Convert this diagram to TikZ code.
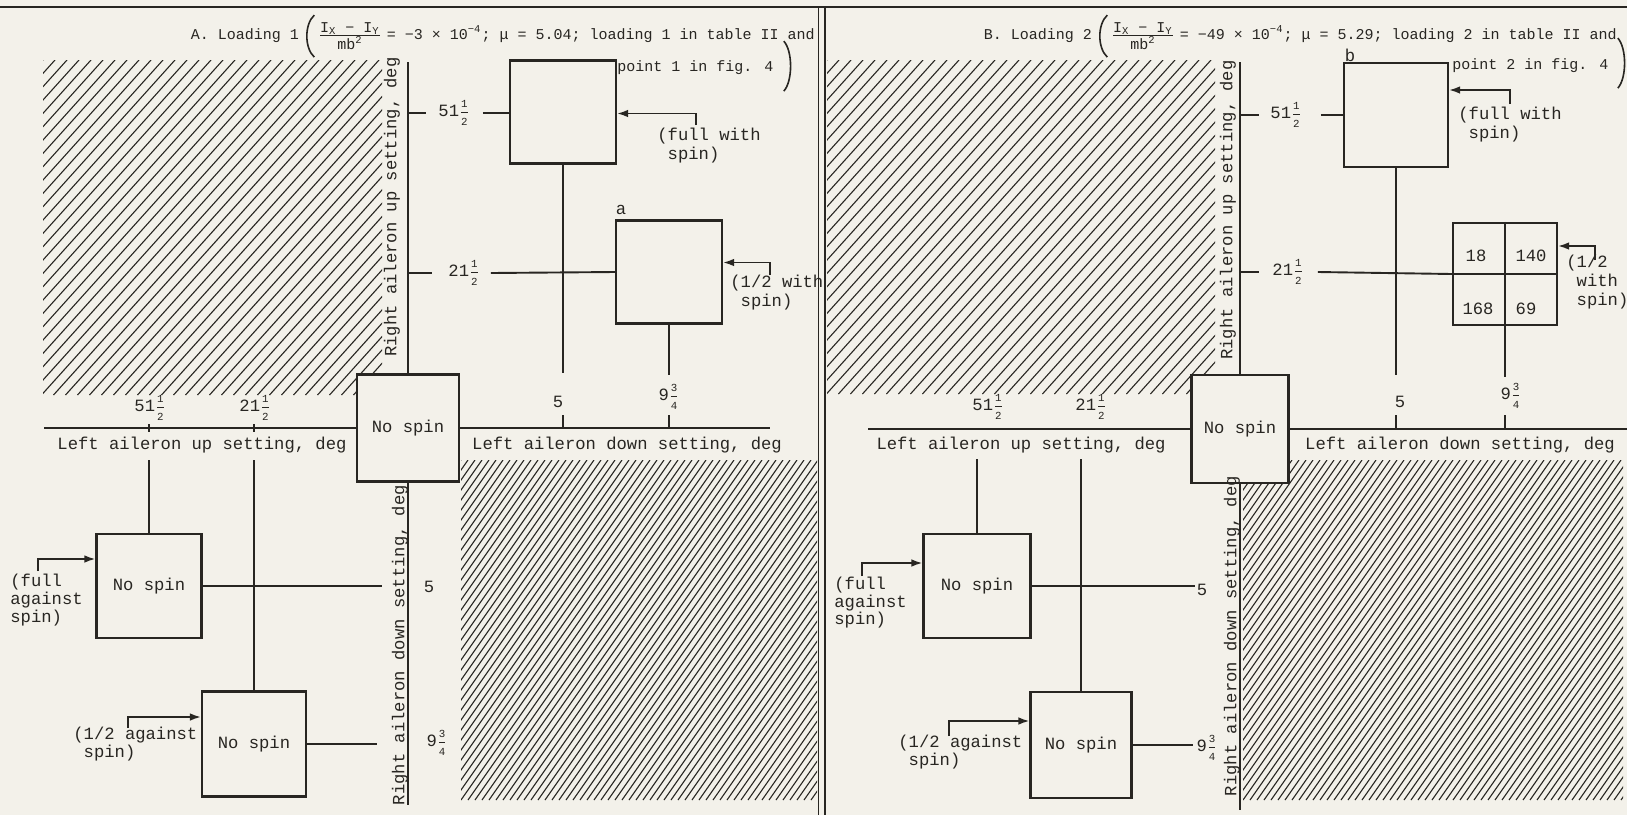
\documentclass[tikz,border=0pt]{standalone}
\usepackage{amsmath}
\usepackage{fontspec}
\setmainfont{Liberation Mono}
\newfontfamily\tw{Liberation Mono}
\usetikzlibrary{arrows.meta,calc}
\definecolor{paper}{RGB}{243,241,234}
\definecolor{ink}{RGB}{40,38,34}
\newcommand{\bodyf}{\tw\fontsize{8.6}{9.5}\selectfont}
\newcommand{\tightf}{\tw\fontsize{8.6}{7.9}\selectfont}
\newcommand{\midf}{\tw\fontsize{8.6}{8.6}\selectfont}
\newcommand{\titlef}{\tw\fontsize{7.5}{8}\selectfont}
\newcommand{\fracf}{\tw\fontsize{5.4}{5.4}\selectfont}
\newcommand{\mfr}[2]{\begingroup\fracf
  \setbox0\hbox{#1}\setbox2\hbox{#2}%
  \ifdim\wd0>\wd2 \dimen0=\wd0 \else \dimen0=\wd2 \fi
  \kern1pt\rlap{\raisebox{4.7pt}{\hbox to\dimen0{\hss\box0\hss}}}%
  \rlap{\raisebox{2.0pt}{\rule{\dimen0}{0.45pt}}}%
  \raisebox{-4.5pt}{\hbox to\dimen0{\hss\box2\hss}}\endgroup}
\newcommand{\hatchbox}[6]{%
  \begin{scope}
    \clip (#1,#2) rectangle (#3,#4);
    \pgfmathsetmacro{\hatchH}{#4-#2}
    \pgfmathsetmacro{\hatchD}{\hatchH*#5}
    \pgfmathsetmacro{\hatchS}{#1-\hatchD}
    \pgfmathsetmacro{\hatchN}{\hatchS+#6}
    \foreach \c in {\hatchS,\hatchN,...,#3} \draw[hatch] (\c,#4) -- ++(\hatchD,-\hatchH);
  \end{scope}}
\tikzset{
  ln/.style={draw=ink,line width=0.95pt},
  axis/.style={draw=ink,line width=1pt},
  box/.style={draw=ink,fill=paper,line width=1.1pt,inner sep=0pt,font=\bodyf,text=ink},
  lab/.style={inner sep=0pt,font=\bodyf,text=ink},
  ttl/.style={inner sep=0pt,font=\titlef,text=ink},
  note/.style={inner sep=0pt,font=\bodyf,text=ink,align=left},
  arr/.style={draw=ink,line width=0.85pt,-{Latex[length=5.5pt,width=3.8pt]}},
  hatch/.style={draw=ink,line width=0.55pt},
  rlab/.style={lab,rotate=90},
  paren/.style={draw=ink,line width=0.8pt}
}
\begin{document}
\begin{tikzpicture}[x=0.5pt,y=-0.5pt]
\useasboundingbox (0,0) rectangle (1627,815);
\fill[paper] (0,0) rectangle (1627,815);

% hatched regions
\hatchbox{43}{60}{382}{395}{0.9}{12}
\hatchbox{461}{460}{817}{800}{0.7}{7}
\hatchbox{827}{60}{1215}{394}{0.9}{12}
\hatchbox{1243}{460}{1623}{800}{0.7}{7}

% frame
\draw[ink,line width=1.2pt] (0,7) -- (1627,7);
\draw[ln] (818.5,7) -- (818.5,815);
\draw[ln] (825,7) -- (825,815);

% ================= Panel A =================
\node[ttl,anchor=base east] (tA2) at (815,39) {= −3 × 10\textsuperscript{−4}; μ = 5.04; loading 1 in table II and};
\node[ttl,anchor=base east] (fA) at ($(tA2.base west)+(-4,0)$) {$\genfrac{}{}{0.45pt}{}{\hbox{\titlef I\textsubscript{X} − I\textsubscript{Y}}}{\hbox{\titlef mb\textsuperscript{2}}}$};
\coordinate (pA) at ($(fA.west)+(-18,0)$);
\node[ttl,anchor=base east] (tA1) at (pA |- tA2.base) {A. Loading 1};
\draw[paren] ([shift={(-3,-21)}]fA.west) .. controls +(-10,9) and +(-10,-9) .. ([shift={(-3,21)}]fA.west);
\node[ttl,anchor=base west] (tA3) at (617,71) {point 1 in fig. 4};
\draw[paren] ([shift={(10,-26)}]tA3.east) .. controls +(9,10) and +(9,-10) .. ([shift={(10,24)}]tA3.east);

\coordinate (upA) at (408,62);
\coordinate (dnA) at (408,805);
\coordinate (lfA) at (44,428);
\coordinate (rtA) at (770,428);

% boxes
\node[box,minimum width=53pt,minimum height=51.5pt] (boxA1) at (563,112) {};
\node[box,minimum width=53pt,minimum height=51.5pt] (boxAa) at (669,272) {};
\node[box,minimum width=51pt,minimum height=53.5pt] (nsA) at (408,428) {No spin};
\node[box,minimum width=52.5pt,minimum height=52pt] (faA) at (149,586) {No spin};
\node[box,minimum width=52pt,minimum height=52.5pt] (haA) at (254,744) {No spin};
\node[lab] (la) at (621,210) {a};

\draw[axis] (nsA.north) -- (upA);
\draw[axis] (nsA.south) -- (dnA);
\draw[axis] (nsA.west) -- (lfA);
\draw[axis] (nsA.east) -- (rtA);
\node[rlab] (rupA) at (392,207) {Right aileron up setting, deg};
\node[rlab] (rdnA) at (400,645) {Right aileron down setting, deg};
\node[lab] (lupA) at (202,445) {Left aileron up setting, deg};
\node[lab] (ldnA) at (627,445) {Left aileron down setting, deg};

% upper grid lines
\node[lab] (a51) at (453,113) {51\mfr{1}{2}};
\node[lab] (a21) at (463,273) {21\mfr{1}{2}};
\draw[ln] (upA |- a51) -- ($(a51.west)+(-12,0)$);
\draw[ln] ($(a51.east)+(15,0)$) -- (boxA1.west |- a51);
\draw[ln] (upA |- a21) -- ($(a21.west)+(-16,0)$);
\draw[ln] ($(a21.east)+(13,0)$) -- (boxAa.west);
\coordinate (v5A) at (563,373);
\coordinate (v9A) at (669,375);
\draw[ln] (boxA1.south) -- (v5A);
\draw[ln] (boxAa.south) -- (v9A);
\draw[ln] (v5A |- rtA) -- ++(0,-13);
\draw[ln] (v9A |- rtA) -- ++(0,-13);
\node[lab] (l5A) at (558,402) {5};
\node[lab] (l9A) at (668,397) {9\mfr{3}{4}};

% arrows upper A
\coordinate (arA1) at (696,125);
\draw[arr] (arA1) |- ([yshift=-0.75pt]boxA1.east);
\node[note,anchor=north west] (nA1) at (657,128) {(full with\\\phantom{(}spin)};
\coordinate (arA2) at (770,275);
\draw[arr] (arA2) |- ([yshift=4.75pt]boxAa.east);
\node[note,anchor=north west] (nA2) at (730,275) {(1/2 with\\\phantom{(}spin)};

% lower left A
\node[lab] (b51A) at (149,408) {51\mfr{1}{2}};
\node[lab] (b21A) at (254,408) {21\mfr{1}{2}};
\draw[ln] (b51A |- lfA) ++(0,-4) -- ++(0,8);
\draw[ln] (b21A |- lfA) ++(0,-4) -- ++(0,8);
\coordinate (topLA) at (0,460);
\draw[ln] (faA.north) -- (faA.north |- topLA);
\draw[ln] (haA.north) -- (haA.north |- topLA);
\coordinate (e5A) at (382,586);
\coordinate (e9A) at (377,744);
\draw[ln] (faA.east) -- (e5A);
\draw[ln] (haA.east) -- (e9A);
\node[lab] (r5A) at (429,587) {5};
\node[lab] (r9A) at (436,743) {9\mfr{3}{4}};
\coordinate (arA3) at (38,571);
\draw[arr] (arA3) |- ([yshift=13.5pt]faA.west);
\node[note,font=\tightf,anchor=north west] (nA3) at (10,574) {(full\\against\\spin)};
\coordinate (arA4) at (128,728);
\draw[arr] (arA4) |- ([yshift=13.5pt]haA.west);
\node[note,font=\midf,anchor=north west] (nA4) at (73,727) {(1/2 against\\\phantom{(}spin)};

% ================= Panel B =================
\node[ttl,anchor=base east] (tB2) at (1617,39) {= −49 × 10\textsuperscript{−4}; μ = 5.29; loading 2 in table II and};
\node[ttl,anchor=base east] (fB) at ($(tB2.base west)+(-4,0)$) {$\genfrac{}{}{0.45pt}{}{\hbox{\titlef I\textsubscript{X} − I\textsubscript{Y}}}{\hbox{\titlef mb\textsuperscript{2}}}$};
\coordinate (pB) at ($(fB.west)+(-18,0)$);
\node[ttl,anchor=base east] (tB1) at (pB |- tB2.base) {B. Loading 2};
\draw[paren] ([shift={(-3,-21)}]fB.west) .. controls +(-10,9) and +(-10,-9) .. ([shift={(-3,21)}]fB.west);
\node[ttl,anchor=base west] (tB3) at (1452,69) {point 2 in fig. 4};
\draw[paren] ([shift={(9,-27)}]tB3.east) .. controls +(9,10) and +(9,-10) .. ([shift={(9,23)}]tB3.east);

\coordinate (upB) at (1240,62);
\coordinate (dnB) at (1240,810);
\coordinate (lfB) at (868,429);
\coordinate (rtB) at (1627,429);

\node[box,minimum width=52pt,minimum height=52pt] (boxB1) at (1396,115) {};
\node[box,minimum width=52pt,minimum height=51pt] (grid) at (1505,274) {};
\node[box,minimum width=48.5pt,minimum height=54pt] (nsB) at (1240,429) {No spin};
\node[box,minimum width=53.5pt,minimum height=52pt] (faB) at (977,586) {No spin};
\node[box,minimum width=50.5pt,minimum height=53pt] (haB) at (1081,745) {No spin};
\node[lab] (lb) at (1350,55) {b};

\draw[axis] (nsB.north) -- (upB);
\draw[axis] (nsB.south) -- (dnB);
\draw[axis] (nsB.west) -- (lfB);
\draw[axis] (nsB.east) -- (rtB);
\node[rlab] (rupB) at (1228,210) {Right aileron up setting, deg};
\node[rlab] (rdnB) at (1232,636) {Right aileron down setting, deg};
\node[lab] (lupB) at (1021,445) {Left aileron up setting, deg};
\node[lab] (ldnB) at (1460,445) {Left aileron down setting, deg};

\node[lab] (b51) at (1285,115) {51\mfr{1}{2}};
\node[lab] (b21) at (1287,272) {21\mfr{1}{2}};
\draw[ln] (upB |- b51) -- ($(b51.west)+(-11,0)$);
\draw[ln] ($(b51.east)+(21,0)$) -- (boxB1.west |- b51);
\draw[ln] (upB |- b21) -- ($(b21.west)+(-13,0)$);
\draw[ln] ($(b21.east)+(16,0)$) -- (grid.west);
\draw[ln] (grid.west) -- (grid.east);
\draw[ln] (grid.north) -- (grid.south);
\node[lab] (c18) at (1476,256) {18};
\node[lab] (c140) at (1531,256) {140};
\node[lab] (c168) at (1478,309) {168};
\node[lab] (c69) at (1526,309) {69};
\coordinate (v5B) at (1396,375);
\coordinate (v9B) at (1505,377);
\draw[ln] (boxB1.south) -- (v5B);
\draw[ln] (grid.south) -- (v9B);
\draw[ln] (v5B |- rtB) -- ++(0,-14);
\draw[ln] (v9B |- rtB) -- ++(0,-14);
\node[lab] (l5B) at (1400,402) {5};
\node[lab] (l9B) at (1510,396) {9\mfr{3}{4}};

\coordinate (arB1) at (1510,104);
\draw[arr] (arB1) |- ([yshift=12.5pt]boxB1.east);
\node[note,anchor=north west] (nB1) at (1458,107) {(full with\\\phantom{(}spin)};
\coordinate (arB2) at (1595,260);
\draw[arr] (arB2) |- ([yshift=14pt]grid.east);
\node[note,anchor=north west] (nB2) at (1566,255) {(1/2\\\phantom{(}with\\\phantom{(}spin)};

\node[lab] (c51B) at (987,407) {51\mfr{1}{2}};
\node[lab] (c21B) at (1090,407) {21\mfr{1}{2}};
\coordinate (topLB) at (0,459);
\draw[ln] (faB.north) -- (faB.north |- topLB);
\draw[ln] (haB.north) -- (haB.north |- topLB);
\coordinate (e5B) at (1195,586);
\coordinate (e9B) at (1193,745);
\draw[ln] (faB.east) -- (e5B);
\draw[ln] (haB.east) -- (e9B);
\node[lab] (r5B) at (1202,590) {5};
\node[lab] (r9B) at (1206,748) {9\mfr{3}{4}};
\coordinate (arB3) at (862,576);
\draw[arr] (arB3) |- ([yshift=11.5pt]faB.west);
\node[note,font=\midf,anchor=north west] (nB3) at (834,577) {(full\\against\\spin)};
\coordinate (arB4) at (949,736);
\draw[arr] (arB4) |- ([yshift=12pt]haB.west);
\node[note,font=\midf,anchor=north west] (nB4) at (898,735) {(1/2 against\\\phantom{(}spin)};
\end{tikzpicture}
\end{document}
